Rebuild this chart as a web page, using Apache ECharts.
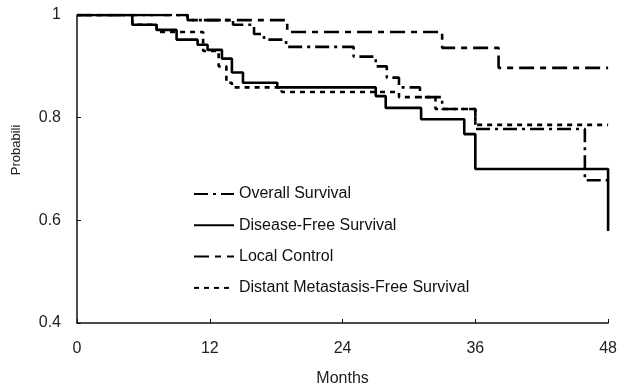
<!DOCTYPE html>
<html>
<head>
<meta charset="utf-8">
<script src="https://cdn.jsdelivr.net/npm/echarts@6/dist/echarts.min.js"></script>
<style>html,body{margin:0;padding:0;background:#fff}#c{width:620px;height:392px}</style>
</head>
<body>
<div id="c"></div>
<script>
// Kaplan-Meier step data (month, probability)
const osMonths   = [0, 10, 14.1, 16, 16.9, 18.9, 25, 27, 28, 29.1, 31, 33, 36, 45.9, 48];
const osProb     = [1, 0.99, 0.981, 0.963, 0.952, 0.938, 0.919, 0.90, 0.878, 0.859, 0.84, 0.817, 0.778, 0.678, 0.678];
const dfsMonths  = [0, 5, 7.2, 9, 10.9, 11.8, 13.1, 14, 15, 18.1, 27, 27.9, 31.1, 35, 36, 48];
const dfsProb    = [1, 0.981, 0.971, 0.952, 0.942, 0.932, 0.915, 0.888, 0.868, 0.859, 0.842, 0.819, 0.797, 0.768, 0.70, 0.579];
const lcMonths   = [0, 10, 19, 33, 38.1, 48];
const lcProb     = [1, 0.99, 0.967, 0.936, 0.897, 0.897];
const dmfsMonths = [0, 5, 7.2, 11.4, 12.8, 13.5, 14, 18.5, 29.1, 32.4, 36, 48];
const dmfsProb   = [1, 0.981, 0.967, 0.93, 0.90, 0.868, 0.859, 0.85, 0.84, 0.817, 0.786, 0.786];
const seriesNames = ['Overall Survival', 'Disease-Free Survival', 'Local Control', 'Distant Metastasis-Free Survival'];
const xTicks = [0, 12, 24, 36, 48];
const yTicks = [0.4, 0.6, 0.8, 1];

function pairs(xs, ys) { return xs.map((x, i) => [x, ys[i]]); }

const chart = echarts.init(document.getElementById('c'), null, {renderer: 'canvas'});
const font = 'Liberation Sans, Arial, sans-serif';
const dashStyles = [[14, 5, 3, 5], 'solid', [15, 6, 6, 6], [5, 5]];
const allData = [pairs(osMonths, osProb), pairs(dfsMonths, dfsProb), pairs(lcMonths, lcProb), pairs(dmfsMonths, dmfsProb)];

chart.setOption({
  animation: false,
  backgroundColor: '#fff',
  grid: {left: 77, right: 10, top: 15, bottom: 62},
  xAxis: {
    type: 'value', min: xTicks[0], max: xTicks[xTicks.length - 1], interval: 12,
    name: 'Months', nameLocation: 'middle', nameGap: 48,
    nameTextStyle: {fontFamily: font, fontSize: 16, color: '#222'},
    axisLine: {lineStyle: {color: '#111', width: 1.5}},
    axisTick: {inside: true, length: 4, lineStyle: {color: '#111'}},
    axisLabel: {fontFamily: font, fontSize: 16, color: '#222', margin: 18},
    splitLine: {show: false}
  },
  yAxis: {
    type: 'value', min: yTicks[0], max: yTicks[yTicks.length - 1], interval: 0.2,
    axisLine: {show: true, lineStyle: {color: '#111', width: 1.5}},
    axisTick: {show: true, inside: true, length: 4, lineStyle: {color: '#111'}},
    axisLabel: {fontFamily: font, fontSize: 16, color: '#222', margin: 16,
      formatter: v => String(Math.round(v * 10) / 10)},
    splitLine: {show: false}
  },
  graphic: [{
    type: 'text', x: 16, y: 150, rotation: Math.PI / 2,
    style: {text: 'Probabili', font: '13px ' + font, fill: '#222', align: 'center', verticalAlign: 'middle'}
  }],
  legend: {
    orient: 'vertical', left: 188, top: 181, itemWidth: 40, itemHeight: 14, itemGap: 15.3,
    itemStyle: {opacity: 0},
    textStyle: {fontFamily: font, fontSize: 16, color: '#111'},
    data: seriesNames
  },
  series: seriesNames.map((name, i) => ({
    name: name, type: 'line', step: 'end', symbol: 'none', showSymbol: false,
    data: allData[i],
    lineStyle: {color: '#000', width: 2.6, type: dashStyles[i]},
    itemStyle: {color: '#000'},
    z: 10 - i
  }))
});
</script>
</body>
</html>
